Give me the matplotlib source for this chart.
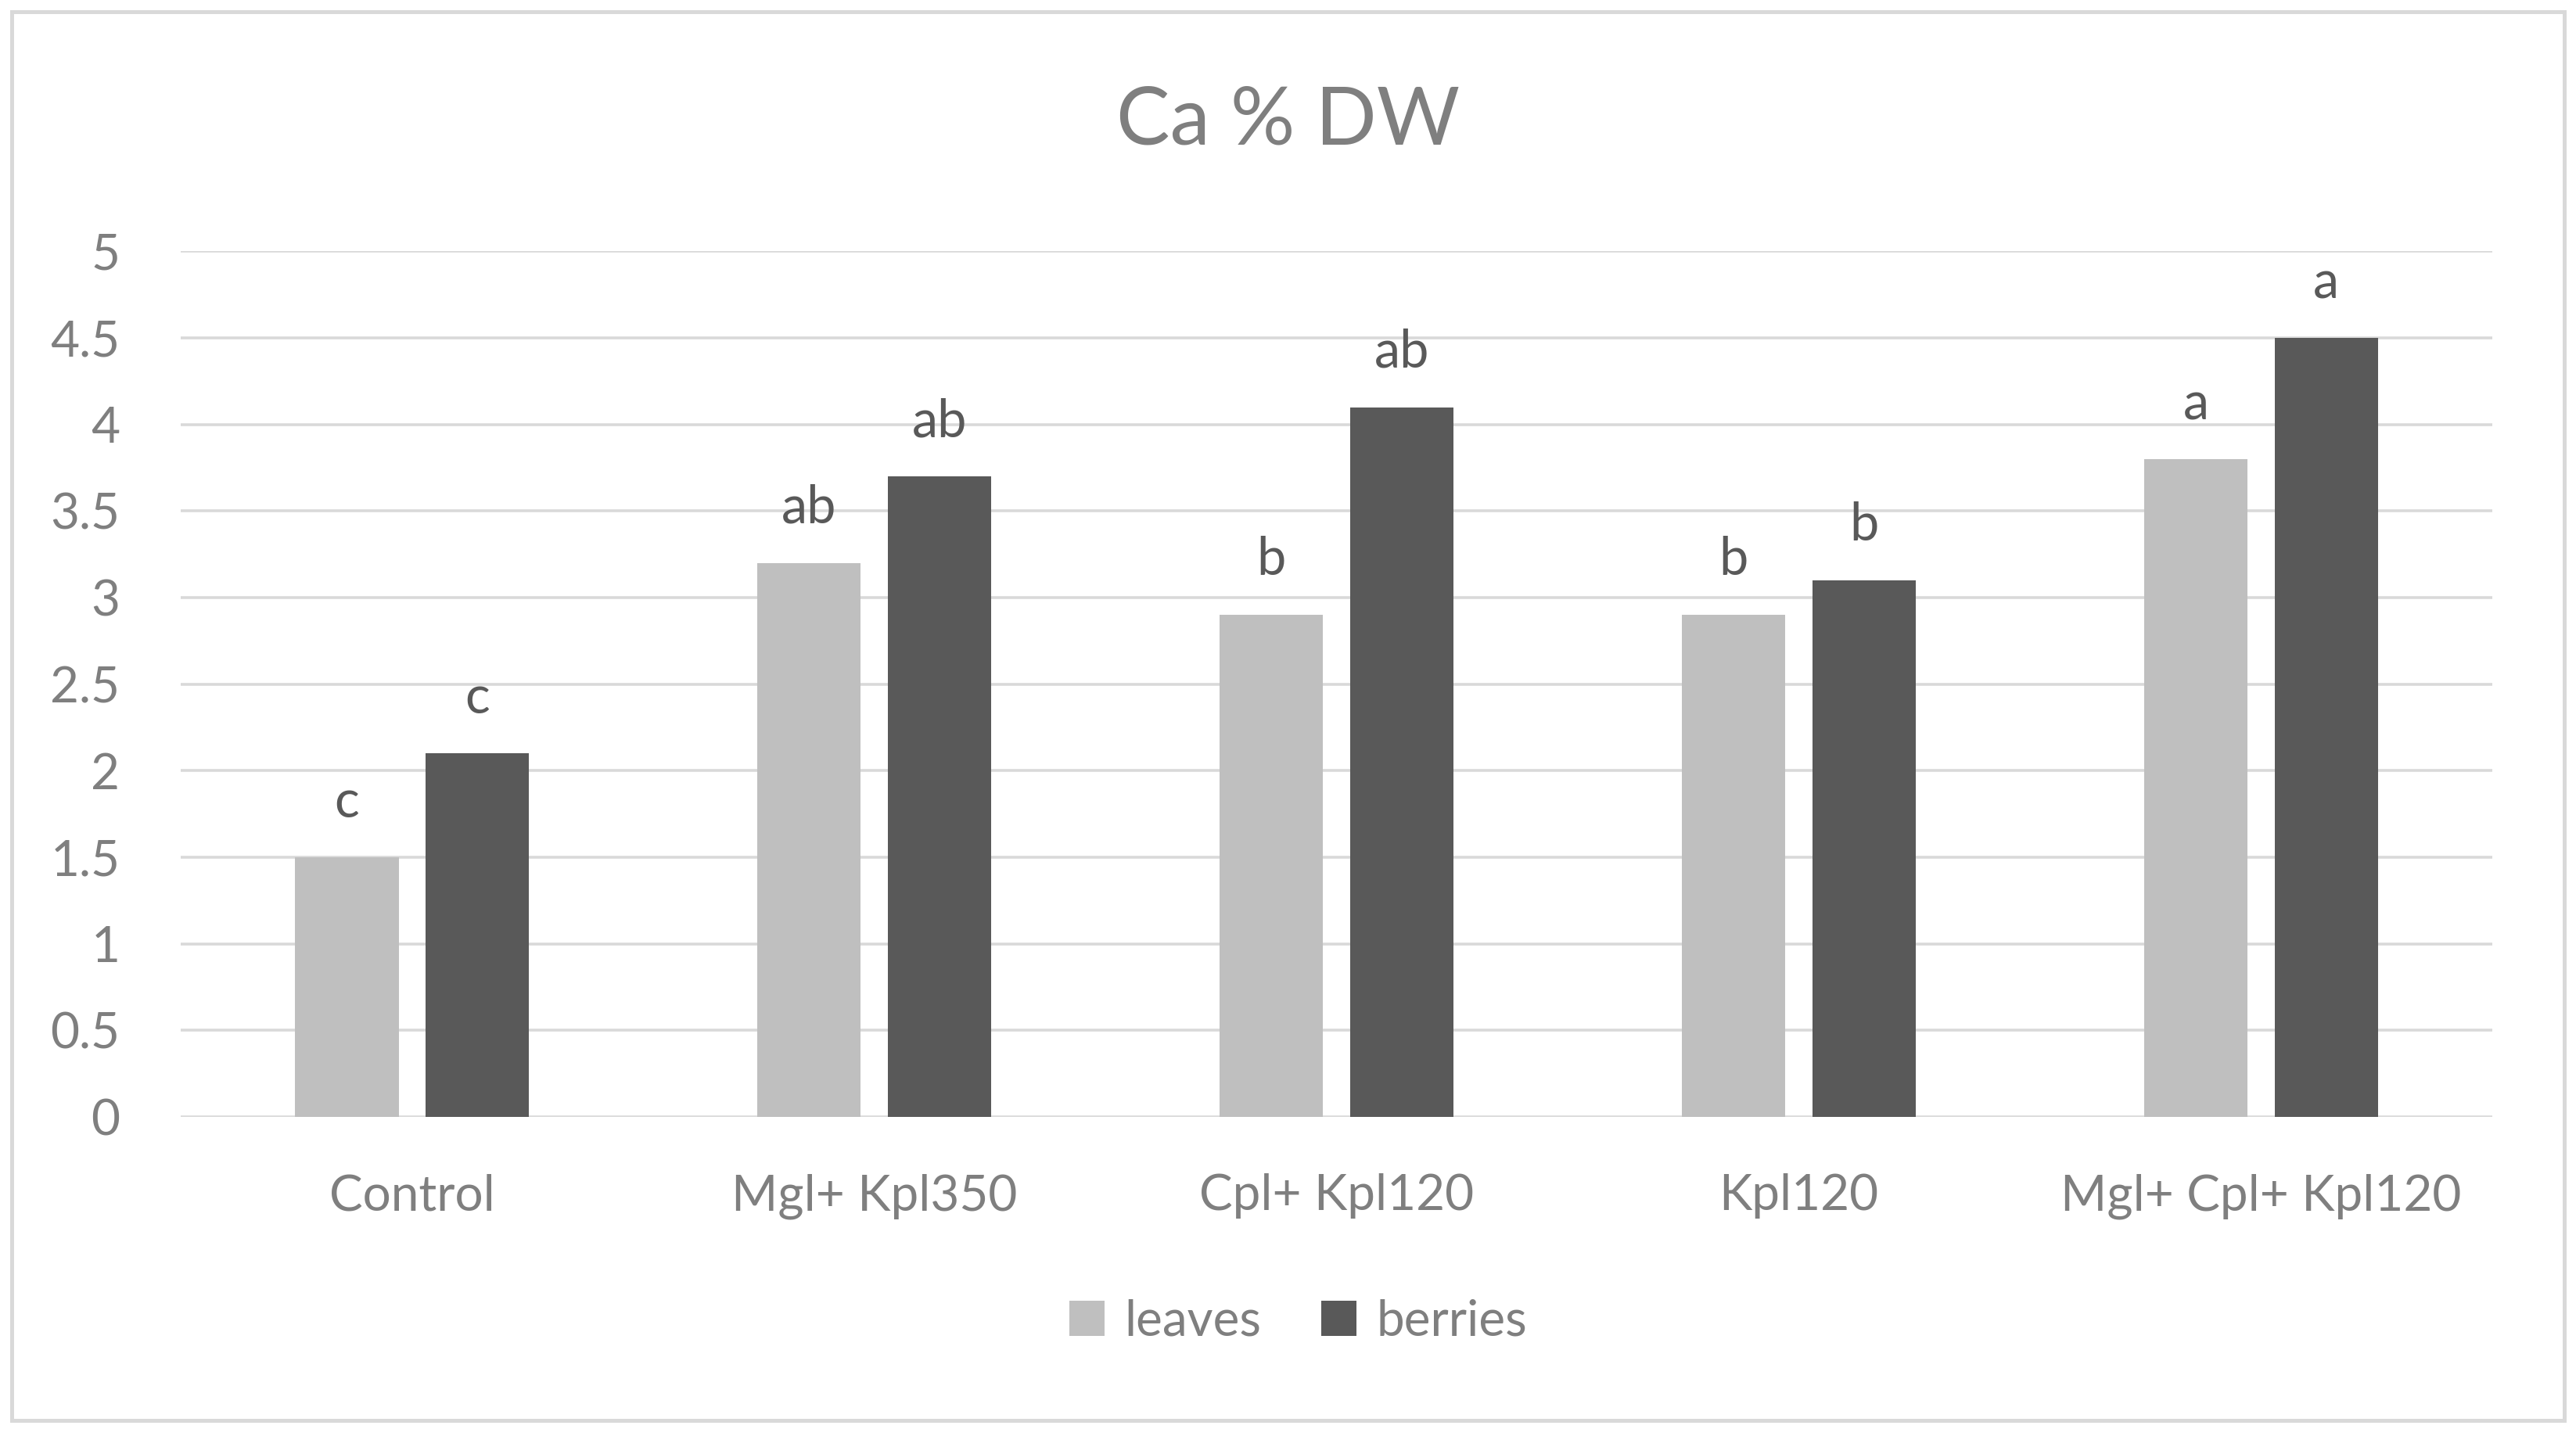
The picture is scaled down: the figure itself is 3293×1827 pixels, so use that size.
import numpy as np
import matplotlib.pyplot as plt
from matplotlib.patches import Rectangle

plt.rcParams['font.family'] = ['Lato', 'DejaVu Sans']

categories = ['Control', 'Mgl+ Kpl350', 'Cpl+ Kpl120', 'Kpl120', 'Mgl+ Cpl+ Kpl120']
leaves = [1.5, 3.2, 2.9, 2.9, 3.8]
berries = [2.1, 3.7, 4.1, 3.1, 4.5]
leaves_letters = ['c', 'ab', 'b', 'b', 'a']
berries_letters = ['c', 'ab', 'ab', 'b', 'a']

c_leaves = '#BFBFBF'
c_berries = '#595959'
c_grid = '#D9D9D9'
c_text = '#7F7F7F'

fig = plt.figure(figsize=(16.465, 9.135), dpi=200)
ax = fig.add_axes([0.0702, 0.2184, 0.8973, 0.6057])

x = np.arange(len(categories))
w = 0.224
off = 0.141
b1 = ax.bar(x - off, leaves, w, color=c_leaves, label='leaves', zorder=3)
b2 = ax.bar(x + off, berries, w, color=c_berries, label='berries', zorder=3)

# significance letters above bars
for xi, v, t in zip(x - off, leaves, leaves_letters):
    ax.annotate(t, (xi, v), xytext=(0, 14), textcoords='offset points',
                ha='center', va='bottom', fontsize=24, color='#595959')
for xi, v, t in zip(x + off, berries, berries_letters):
    ax.annotate(t, (xi, v), xytext=(0, 14), textcoords='offset points',
                ha='center', va='bottom', fontsize=24, color='#595959')

ax.set_xlim(-0.5, 4.5)
ax.set_ylim(0, 5)
ax.set_yticks(np.arange(0, 5.01, 0.5))
ax.set_yticklabels(['0', '0.5', '1', '1.5', '2', '2.5', '3', '3.5', '4', '4.5', '5'])
ax.set_xticks(x)
ax.set_xticklabels(categories)
ax.yaxis.grid(True, color=c_grid, linewidth=1.3, zorder=0)
ax.set_axisbelow(True)
for s in ax.spines.values():
    s.set_visible(False)
ax.tick_params(axis='both', length=0, labelsize=23, colors=c_text)
ax.tick_params(axis='y', pad=28)
ax.tick_params(axis='x', pad=26)

fig.text(0.5, 0.915, 'Ca % DW', ha='center', va='center', fontsize=37, color=c_text)

fig.legend(handles=[b1, b2], loc='center', bbox_to_anchor=(0.504, 0.075), ncol=2,
           frameon=False, fontsize=23, labelcolor=c_text, handlelength=0.7,
           handleheight=0.7, handletextpad=0.4, columnspacing=1.2)

fig.patches.append(Rectangle((0.0045, 0.006), 0.991, 0.986, transform=fig.transFigure,
                             fill=False, edgecolor=c_grid, linewidth=1.8))

fig.savefig('out.png', dpi=200, facecolor='white')
